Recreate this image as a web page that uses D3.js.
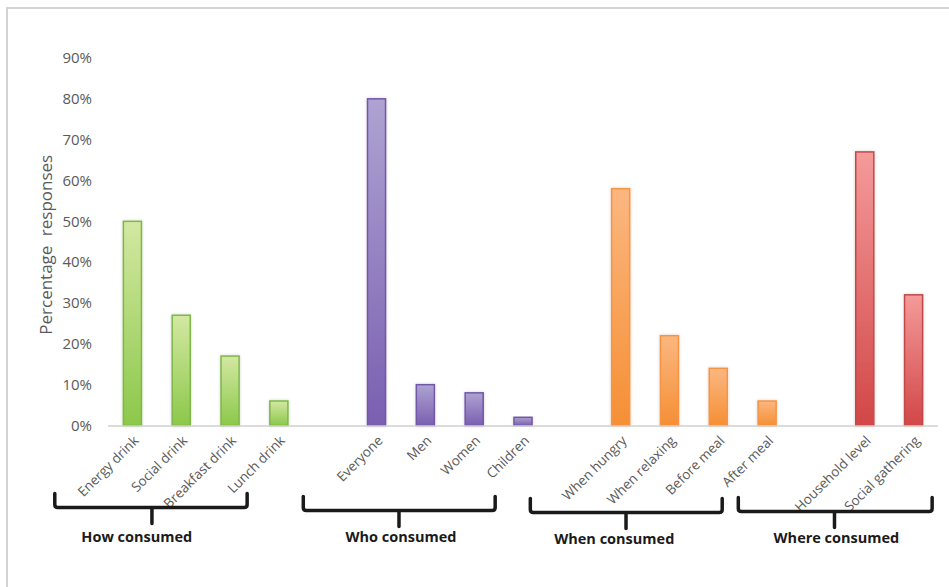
<!DOCTYPE html>
<html>
<head>
<meta charset="utf-8">
<script src="https://cdn.jsdelivr.net/npm/d3@7"></script>
<style>
  html, body { margin: 0; padding: 0; background: #fff; }
  svg { display: block; }
</style>
</head>
<body>
<svg id="chart" width="949" height="587"></svg>
<script>
// Survey categories, the group each belongs to, and the share of responses
const categories = [
  "Energy drink", "Social drink", "Breakfast drink", "Lunch drink",
  "Everyone", "Men", "Women", "Children",
  "When hungry", "When relaxing", "Before meal", "After meal",
  "Household level", "Social gathering"
];
const groupOf = [0, 0, 0, 0, 1, 1, 1, 1, 2, 2, 2, 2, 3, 3];
const values = [0.50, 0.27, 0.17, 0.06, 0.80, 0.10, 0.08, 0.02, 0.58, 0.22, 0.14, 0.06, 0.67, 0.32];

const groupNames = ["How consumed", "Who consumed", "When consumed", "Where consumed"];
// Brace geometry in slot units along the category axis
const braceStart = [-1.09, 4.0, 8.65, 12.91];
const braceEnd = [2.85, 7.93, 12.58, 16.88];
const braceTip = [0.90, 5.96, 10.61, 14.88];
const labelAt = [0.59, 6.0, 10.37, 14.92];
const braceDrop = [-3, 0, 2, 1];

const yTicks = [0, 0.1, 0.2, 0.3, 0.4, 0.5, 0.6, 0.7, 0.8, 0.9];

// Bar fills: [top, bottom, stroke] per group
const groupColors = [
  ["#d3e8a2", "#8cc84a", "#7fb648"],
  ["#aea3d2", "#7a5fb0", "#7158a8"],
  ["#fbb780", "#f58f35", "#f59445"],
  ["#f59a9a", "#d24747", "#c24a4a"]
];

const svg = d3.select("#chart");
const W = 949, H = 587;
const margin = { left: 108, right: 11, top: 58, bottom: 161 };

// one empty slot separates consecutive groups
const slots = categories.map((c, i) => i + groupOf[i]);
const nSlots = d3.max(slots) + 1;

const x = d3.scaleBand()
  .domain(d3.range(nSlots))
  .range([margin.left, W - margin.right])
  .paddingInner(0.63)
  .paddingOuter(0.315);

const slotLinear = d3.scaleLinear()
  .domain([0, nSlots])
  .range([margin.left, W - margin.right]);

const y = d3.scaleLinear()
  .domain([0, 0.9])
  .range([H - margin.bottom - 0.5, margin.top]);

// outer chart frame
svg.append("rect")
  .attr("x", 7).attr("y", 8)
  .attr("width", W + 10).attr("height", H + 10)
  .attr("fill", "none")
  .attr("stroke", "#d4d4d4")
  .attr("stroke-width", 2);

const defs = svg.append("defs");
groupColors.forEach((c, gi) => {
  const lg = defs.append("linearGradient")
    .attr("id", "grad" + gi)
    .attr("x1", 0).attr("y1", 0).attr("x2", 0).attr("y2", 1);
  lg.append("stop").attr("offset", "0%").attr("stop-color", c[0]);
  lg.append("stop").attr("offset", "100%").attr("stop-color", c[1]);
});
const shadow = defs.append("filter").attr("id", "shadow")
  .attr("x", "-50%").attr("y", "-10%").attr("width", "200%").attr("height", "120%");
shadow.append("feDropShadow")
  .attr("dx", 0).attr("dy", 0)
  .attr("stdDeviation", 1.6)
  .attr("flood-color", "#000")
  .attr("flood-opacity", 0.18);

// y axis: labels only
const yAxis = d3.axisLeft(y)
  .tickValues(yTicks)
  .tickFormat(d3.format(".0%"))
  .tickSize(0)
  .tickPadding(0);
const yg = svg.append("g")
  .attr("transform", `translate(${margin.left - 16},0)`)
  .call(yAxis);
yg.select(".domain").remove();
yg.selectAll("text")
  .attr("font-family", "'Open Sans', sans-serif")
  .attr("font-size", 15)
  .attr("fill", "#5a5a5a");

// y axis title
svg.append("text")
  .attr("transform", `translate(52,${(y(0) + y(0.9)) / 2 + 3}) rotate(-90)`)
  .attr("text-anchor", "middle")
  .attr("font-family", "'Open Sans', sans-serif")
  .attr("font-size", 17)
  .attr("word-spacing", 5)
  .attr("fill", "#5a5a5a")
  .text("Percentage responses");

// bars
svg.append("g")
  .selectAll("rect")
  .data(values)
  .join("rect")
  .attr("x", (d, i) => x(slots[i]))
  .attr("y", d => y(d))
  .attr("width", x.bandwidth())
  .attr("height", d => y(0) - y(d))
  .attr("fill", (d, i) => `url(#grad${groupOf[i]})`)
  .attr("stroke", (d, i) => groupColors[groupOf[i]][2])
  .attr("stroke-width", 1.5)
  .attr("filter", "url(#shadow)");

// baseline
svg.append("line")
  .attr("x1", margin.left).attr("x2", W - margin.right)
  .attr("y1", y(0) + 0.5).attr("y2", y(0) + 0.5)
  .attr("stroke", "#d0d0d0")
  .attr("stroke-width", 1.5);

// category labels, rotated
svg.append("g")
  .selectAll("text")
  .data(categories)
  .join("text")
  .attr("transform", (d, i) => `translate(${x(slots[i]) + x.bandwidth() / 2 + 7},${y(0) + 16}) rotate(-45)`)
  .attr("text-anchor", "end")
  .attr("font-family", "'Open Sans', sans-serif")
  .attr("font-size", 13.5)
  .attr("fill", "#5a5a5a")
  .text(d => d);

// group braces with labels
const braceTop = y(0) + 71, braceMid = y(0) + 85, braceBottom = y(0) + 101;
groupNames.forEach((name, gi) => {
  const x0 = slotLinear(braceStart[gi]);
  const x1 = slotLinear(braceEnd[gi]);
  const xm = slotLinear(braceTip[gi]);
  const dy = braceDrop[gi];
  const r = 3;
  const p = d3.path();
  p.moveTo(x0, braceTop + dy);
  p.lineTo(x0, braceMid + dy - r);
  p.quadraticCurveTo(x0, braceMid + dy, x0 + r, braceMid + dy);
  p.lineTo(x1 - r, braceMid + dy);
  p.quadraticCurveTo(x1, braceMid + dy, x1, braceMid + dy - r);
  p.lineTo(x1, braceTop + dy);
  p.moveTo(xm, braceMid + dy);
  p.lineTo(xm, braceBottom + dy);
  svg.append("path")
    .attr("d", p.toString())
    .attr("fill", "none")
    .attr("stroke", "#1a1a1a")
    .attr("stroke-width", 3.5)
    .attr("stroke-linecap", "round")
    .attr("stroke-linejoin", "round");

  svg.append("text")
    .attr("x", slotLinear(labelAt[gi]))
    .attr("y", y(0) + 116 + Math.max(0, dy))
    .attr("text-anchor", "middle")
    .attr("font-family", "'Open Sans', sans-serif")
    .attr("font-weight", 700)
    .attr("font-size", 14.5)
    .attr("fill", "#1a1a1a")
    .text(name);
});
</script>
</body>
</html>
